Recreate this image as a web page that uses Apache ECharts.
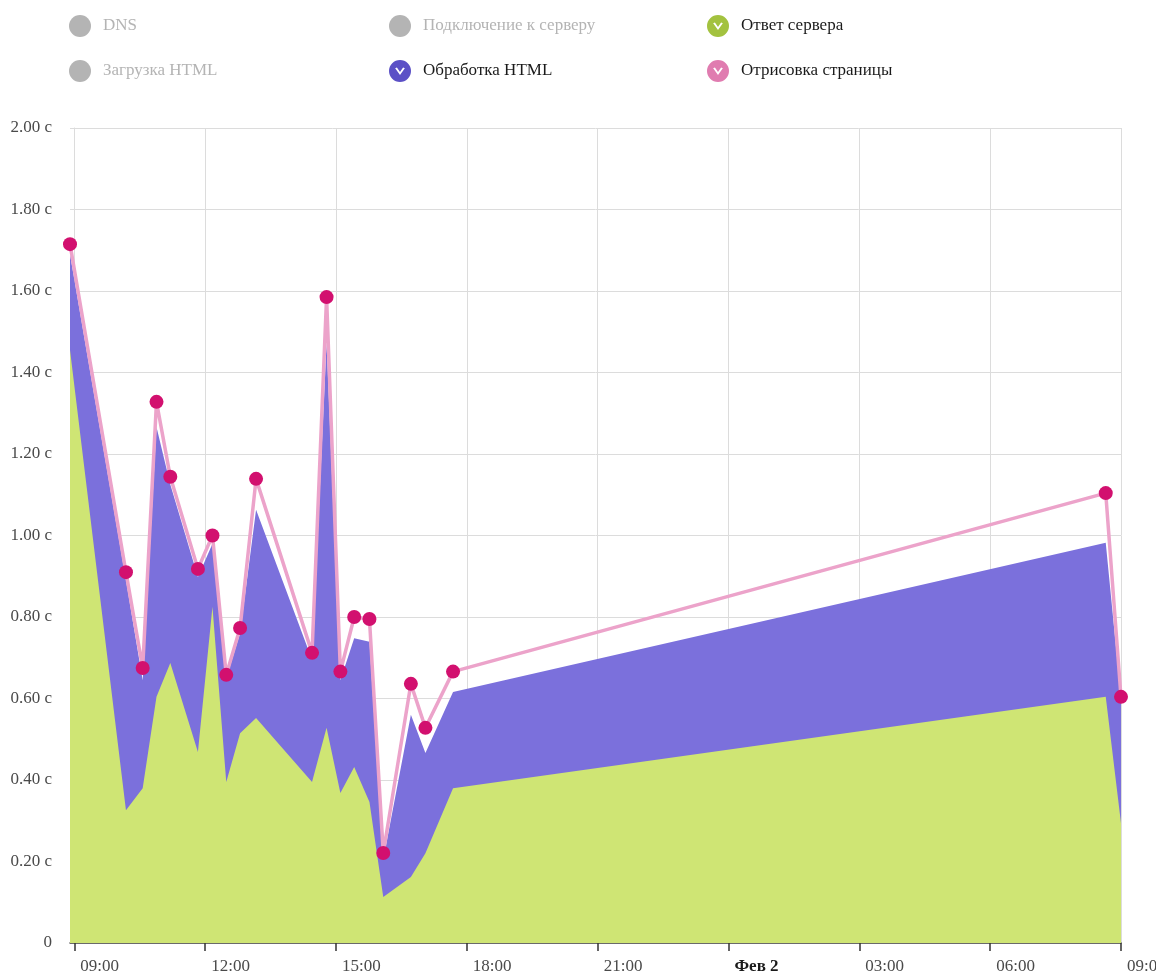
<!DOCTYPE html>
<html>
<head>
<meta charset="utf-8">
<script src="https://cdn.jsdelivr.net/npm/echarts@6/dist/echarts.min.js"></script>
<style>
html,body{margin:0;padding:0;background:#fff;}
#chart{width:1156px;height:971px;}
</style>
</head>
<body>
<div id="chart"></div>
<script>
// время замеров (1-2 февраля)
var times = ['2015-02-01 08:54','2015-02-01 10:11','2015-02-01 10:34','2015-02-01 10:53','2015-02-01 11:12',
	'2015-02-01 11:50','2015-02-01 12:10','2015-02-01 12:29','2015-02-01 12:48','2015-02-01 13:10',
	'2015-02-01 14:27','2015-02-01 14:47','2015-02-01 15:06','2015-02-01 15:25','2015-02-01 15:46',
	'2015-02-01 16:05','2015-02-01 16:43','2015-02-01 17:03','2015-02-01 17:41','2015-02-02 08:39',
	'2015-02-02 09:00']
// секунды, слои друг над другом
var otvet = [1.455,0.326,0.380,0.604,0.687,0.469,0.825,0.395,0.515,0.552,0.395,0.528,0.368,0.432,0.346,0.113,0.162,0.220,0.380,0.604,0.294]
var obrabotka = [0.235,0.564,0.265,0.662,0.438,0.429,0.155,0.255,0.245,0.511,0.300,0.944,0.277,0.316,0.393,0.091,0.398,0.246,0.236,0.378,0.306]
var otrisovka = [0.025,0.020,0.030,0.062,0.019,0.020,0.020,0.008,0.013,0.076,0.017,0.113,0.021,0.052,0.056,0.017,0.076,0.062,0.050,0.122,0.004]
// подписи оси времени: часы от 09:00 1 февраля
var startTime = '2015-02-01 09:00'
var tickHours = [0,3,6,9,12,15,18,21,24]
var yTicks = [0,0.2,0.4,0.6,0.8,1.0,1.2,1.4,1.6,1.8,2.0]
var monthName = 'Фев'

function toDate(s){
	var p = s.split(/[- :]/)
	return new Date(+p[0], +p[1]-1, +p[2], +p[3], +p[4])
}
var base = toDate(startTime)
function hoursFrom(s){ return (toDate(s) - base)/3600000 }

// накопленные значения (верх каждого слоя)
var layers = [otvet, obrabotka, otrisovka]
function stacked(level){
	var out = []
	for(var i=0;i<times.length;i++){
		var sum = 0
		for(var j=0;j<=level;j++) sum += layers[j][i]
		out.push([hoursFrom(times[i]), +sum.toFixed(4)])
	}
	return out
}
function pad(n){ return n<10 ? '0'+n : ''+n }

var checkIcon = 'path://M50,0 A50,50 0 1,1 50,100 A50,50 0 1,1 50,0 Z M28,38 L50,68 L72,38 L64,34 L50,54 L36,34 Z'
var font = 'Liberation Serif'

function legendCol(left, names, icons, colors, selected){
	var data = []
	for(var i=0;i<names.length;i++){
		var d = {name:names[i], icon:icons[i]}
		if(colors[i]) d.itemStyle = {color:colors[i]}
		data.push(d)
	}
	return {
		orient:'vertical',
		left:left,
		top:10,
		itemWidth:22,
		itemHeight:22,
		itemGap:23,
		inactiveColor:'#b4b4b4',
		selectedMode:false,
		selected:selected,
		data:data,
		textStyle:{fontFamily:font, fontSize:17, color:'#1a1a1a', padding:[0,0,0,7]}
	}
}

var chart = echarts.init(document.getElementById('chart'))
var option = {
	animation:false,
	legend:[
		legendCol(64, ['DNS','Загрузка HTML'], ['circle','circle'], [null,null], {'DNS':false,'Загрузка HTML':false}),
		legendCol(384, ['Подключение к серверу','Обработка HTML'], ['circle',checkIcon], [null,'#5b50c6'], {'Подключение к серверу':false}),
		legendCol(702, ['Ответ сервера','Отрисовка страницы'], [checkIcon,checkIcon], ['#a3c23f','#e07cb0'], {})
	],
	grid:{left:70, right:35, top:128, bottom:28, containLabel:false, outerBoundsMode:'none'},
	xAxis:{
		type:'value',
		min:hoursFrom(times[0]),
		max:tickHours[tickHours.length-1],
		axisLine:{show:true, lineStyle:{color:'#444', width:1.5}},
		axisTick:{show:true, length:8, customValues:tickHours, lineStyle:{color:'#333', width:1.5}},
		splitLine:{show:true, lineStyle:{color:'#dcdcdc', width:1}},
		axisLabel:{
			customValues:tickHours,
			hideOverlap:false,
			align:'left',
			margin:15,
			padding:[0,0,0,6],
			fontFamily:font,
			fontSize:17,
			color:'#4a4a4a',
			formatter:function(val){
				var d = new Date(base.getTime() + val*3600000)
				if(d.getHours()==0 && d.getMinutes()==0){
					return '{b|' + monthName + ' ' + d.getDate() + '}'
				}
				return pad(d.getHours()) + ':' + pad(d.getMinutes())
			},
			rich:{b:{fontFamily:font, fontSize:17, fontWeight:'bold', color:'#1a1a1a'}}
		}
	},
	yAxis:{
		type:'value',
		min:yTicks[0],
		max:yTicks[yTicks.length-1],
		interval:0.2,
		axisLine:{show:true, lineStyle:{color:'#dcdcdc'}},
		axisTick:{show:false},
		splitLine:{show:true, lineStyle:{color:'#dcdcdc', width:1}},
		axisLabel:{
			margin:18,
			padding:[6,0,0,0],
			fontFamily:font,
			fontSize:17,
			color:'#4a4a4a',
			formatter:function(v){
				if(v==0) return '0'
				return v.toFixed(2) + ' с'
			}
		}
	},
	series:[
		{name:'DNS', type:'line', data:[], color:'#999'},
		{name:'Подключение к серверу', type:'line', data:[], color:'#999'},
		{name:'Загрузка HTML', type:'line', data:[], color:'#999'},
		{
			name:'Обработка HTML', type:'line', data:stacked(1), z:2,
			color:'#7b70dc', showSymbol:false, symbol:'none',
			lineStyle:{width:0}, areaStyle:{color:'#7b70dc', opacity:1, origin:'start'}
		},
		{
			name:'Ответ сервера', type:'line', data:stacked(0), z:3,
			color:'#cfe574', showSymbol:false, symbol:'none',
			lineStyle:{width:0}, areaStyle:{color:'#cfe574', opacity:1, origin:'start'}
		},
		{
			name:'Отрисовка страницы', type:'line', data:stacked(2), z:5,
			color:'#d2106f', symbol:'circle', symbolSize:14, showSymbol:true,
			lineStyle:{width:3.5, color:'#eca3ca'},
			itemStyle:{color:'#d2106f'}
		}
	]
}
chart.setOption(option)
</script>
</body>
</html>
